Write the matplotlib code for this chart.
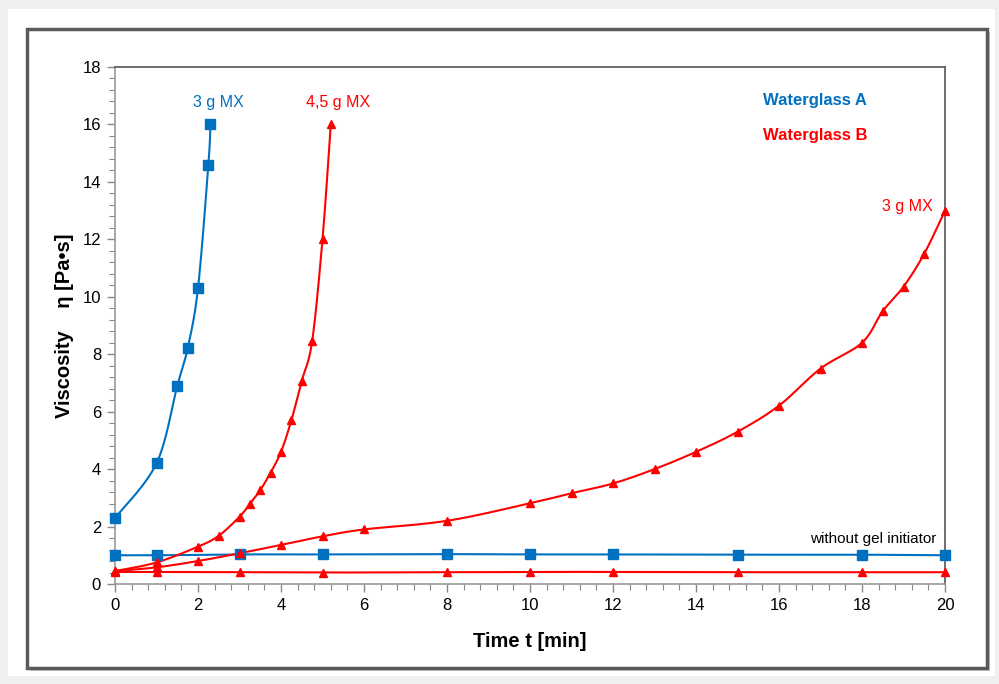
import numpy as np
import matplotlib
matplotlib.use("Agg")
import matplotlib.pyplot as plt
from matplotlib.patches import Rectangle
from matplotlib.ticker import MultipleLocator

plt.rcParams['font.family'] = ['Liberation Sans', 'DejaVu Sans']

BLUE = '#0070C0'
RED = '#FF0000'

# Waterglass A, 3 g MX
a_mx_t = [0, 1, 1.5, 1.75, 2, 2.25, 2.3]
a_mx_v = [2.3, 4.2, 6.9, 8.2, 10.3, 14.6, 16.0]

# Waterglass A, without gel initiator
a_0_t = [0, 1, 3, 5, 8, 10, 12, 15, 18, 20]
a_0_v = [1.0, 1.0, 1.03, 1.03, 1.04, 1.03, 1.03, 1.02, 1.02, 1.0]

# Waterglass B, 4,5 g MX
b_45_t = [0, 1, 2, 2.5, 3, 3.25, 3.5, 3.75, 4, 4.25, 4.5, 4.75, 5, 5.2]
b_45_v = [0.45, 0.75, 1.3, 1.68, 2.34, 2.79, 3.27, 3.88, 4.6, 5.7, 7.07, 8.45, 12.0, 16.0]

# Waterglass B, 3 g MX
b_3_t = [0, 1, 2, 3, 4, 5, 6, 8, 10, 11, 12, 13, 14, 15, 16, 17, 18, 18.5, 19, 19.5, 20]
b_3_v = [0.45, 0.58, 0.8, 1.07, 1.36, 1.66, 1.9, 2.2, 2.81, 3.16, 3.5, 4.0, 4.6,
         5.3, 6.21, 7.5, 8.4, 9.5, 10.35, 11.5, 13.0]

# Waterglass B, without gel initiator
b_0_t = [0, 1, 3, 5, 8, 10, 12, 15, 18, 20]
b_0_v = [0.42, 0.42, 0.41, 0.4, 0.41, 0.42, 0.42, 0.41, 0.41, 0.41]


def smooth(x, y, sx=41.5, sy=28.7, n=30):
    # Catmull-Rom through the points, done in screen-like proportions
    p = np.column_stack([np.asarray(x, float) * sx, np.asarray(y, float) * sy])
    p = np.vstack([p[0], p, p[-1]])
    out = []
    for i in range(1, len(p) - 2):
        p0, p1, p2, p3 = p[i - 1], p[i], p[i + 1], p[i + 2]
        s = np.linspace(0, 1, n, endpoint=False)[:, None]
        c = 0.5 * ((2 * p1) + (-p0 + p2) * s + (2 * p0 - 5 * p1 + 4 * p2 - p3) * s ** 2
                   + (-p0 + 3 * p1 - 3 * p2 + p3) * s ** 3)
        out.append(c)
    out.append(p[-2][None, :])
    c = np.vstack(out)
    return c[:, 0] / sx, c[:, 1] / sy


W, H = 999, 684
fig = plt.figure(figsize=(W / 100, H / 100), dpi=100)
fig.patch.set_facecolor('#efefef')


def px_rect(x0, y0, x1, y1, **kw):
    fig.patches.append(Rectangle((x0 / W, 1 - y1 / H), (x1 - x0) / W, (y1 - y0) / H,
                                 transform=fig.transFigure, zorder=-5, **kw))


# white panel and the framed chart area with a soft shadow
px_rect(8, 9, 995, 676, facecolor='white', edgecolor='none')
px_rect(30, 32, 990, 671, facecolor='#d0d0d0', edgecolor='none')
px_rect(27, 29, 987, 668, facecolor='white', edgecolor='#5a5a5a', linewidth=2.5)

ax = fig.add_axes([115 / W, 1 - 584 / H, 830 / W, 517 / H])
ax.set_facecolor('white')

for t, v, c, m, ms in [(a_mx_t, a_mx_v, BLUE, 's', 6.5),
                       (a_0_t, a_0_v, BLUE, 's', 6.5),
                       (b_45_t, b_45_v, RED, '^', 5.5),
                       (b_3_t, b_3_v, RED, '^', 5.5),
                       (b_0_t, b_0_v, RED, '^', 5.5)]:
    sx_, sy_ = smooth(t, v)
    ax.plot(sx_, sy_, color=c, lw=1.5, clip_on=False, zorder=3)
    ax.plot(t, v, ls='none', marker=m, ms=ms, color=c, mec=c, clip_on=False, zorder=4)

ax.set_xlim(0, 20)
ax.set_ylim(0, 18)
ax.xaxis.set_major_locator(MultipleLocator(2))
ax.xaxis.set_minor_locator(MultipleLocator(0.4))
ax.yaxis.set_major_locator(MultipleLocator(2))
ax.yaxis.set_minor_locator(MultipleLocator(0.4))
ax.tick_params(which='major', direction='out', length=6, width=1, color='#888888',
               labelsize=12, pad=4)
ax.tick_params(which='minor', direction='out', length=4, width=0.8, color='#888888')
for s in ['left', 'bottom']:
    ax.spines[s].set_color('#999999')
for s in ['top', 'right']:
    ax.spines[s].set_color('#555555')
for s in ax.spines.values():
    s.set_linewidth(1.2)

ax.set_xlabel('Time t [min]', fontsize=14.5, fontweight='bold', labelpad=14)
ax.set_ylabel('Viscosity    \u03b7 [Pa\u2022s]', fontsize=14.5, fontweight='bold', labelpad=6)

ax.text(2.48, 16.75, '3 g MX', color=BLUE, fontsize=11.5, ha='center', va='center')
ax.text(5.37, 16.75, '4,5 g MX', color=RED, fontsize=11.5, ha='center', va='center')
ax.text(16.87, 16.85, 'Waterglass A', color=BLUE, fontsize=12, fontweight='bold',
        ha='center', va='center')
ax.text(16.87, 15.6, 'Waterglass B', color=RED, fontsize=12, fontweight='bold',
        ha='center', va='center')
ax.text(19.7, 13.13, '3 g MX', color=RED, fontsize=11.5, ha='right', va='center')
ax.text(19.8, 1.57, 'without gel initiator', color='black', fontsize=11,
        ha='right', va='center')

fig.savefig('out.png', dpi=100, facecolor=fig.get_facecolor())
